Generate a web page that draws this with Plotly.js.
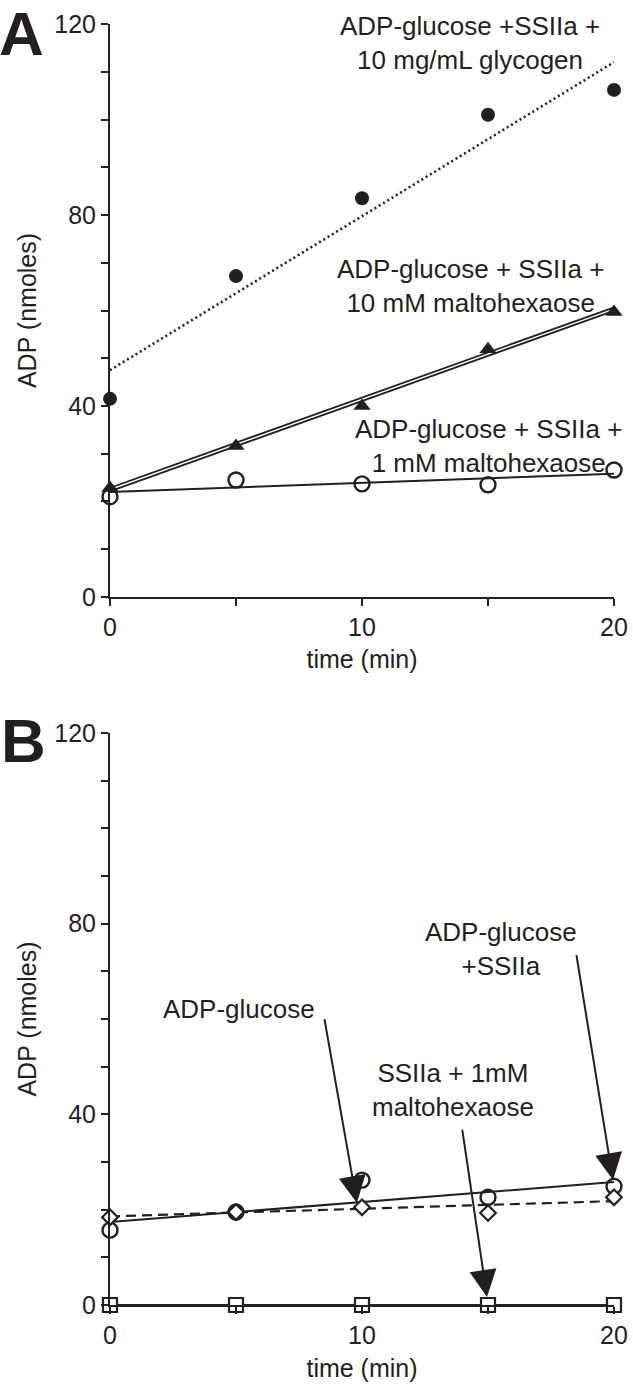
<!DOCTYPE html>
<html>
<head>
<meta charset="utf-8">
<script src="https://cdn.plot.ly/plotly-3.0.1.min.js"></script>
<style>html,body{margin:0;padding:0;background:#fff;}#chart{width:633px;height:1385px;}</style>
</head>
<body>
<div id="chart"></div>
<script>
// ---------- data ----------
var timeMin = [0, 5, 10, 15, 20];
var fitX = [0, 20];

// Panel A
var glycogen10mg = [41.5, 67.2, 83.5, 101, 106.2];
var glycogenFit = [47.5, 112];
var malto10mM = [22.8, 31.6, 40, 51.9, 59.7];
var malto10mMFit = [22.5, 60.3];
var malto1mM = [21, 24.5, 23.7, 23.5, 26.6];
var malto1mMFit = [22, 25.8];

// Panel B
var adpgSSIIa = [15.7, 19.5, 26.2, 22.6, 24.9];
var adpgSSIIaFit = [17.4, 25.8];
var adpgOnly = [18.4, 19.5, 20.5, 19.3, 22.6];
var adpgOnlyFit = [18.6, 21.8];
var ssIIaMalto = [0, 0, 0, 0, 0];
var ssIIaMaltoFit = [0, 0];

// tick labels
var yTickVals = [0, 10, 20, 30, 40, 50, 60, 70, 80, 90, 100, 110, 120];
var yTickText = ['0', '', '', '', '40', '', '', '', '80', '', '', '', '120'];
var xTickVals = [0, 5, 10, 15, 20];
var xTickText = ['0', '', '10', '', '20'];

// ---------- styling ----------
var FONT = 'Liberation Sans, Arial, sans-serif';
var BLK = '#231f20';

function line(x, y, xa, ya, opts) {
  return Object.assign({x: x, y: y, xaxis: xa, yaxis: ya, mode: 'lines', cliponaxis: false,
    hoverinfo: 'skip', showlegend: false, line: {color: BLK, width: 2}}, opts || {});
}
function pts(x, y, xa, ya, marker) {
  return {x: x, y: y, xaxis: xa, yaxis: ya, mode: 'markers', cliponaxis: false,
    showlegend: false, marker: marker};
}

var traces = [
  // Panel A
  line(fitX, glycogenFit, 'x', 'y', {line: {color: BLK, width: 2.6, dash: '2px,3px'}}),
  line(fitX, malto10mMFit, 'x', 'y', {line: {color: BLK, width: 5}}),
  line(fitX, malto10mMFit, 'x', 'y', {line: {color: '#ffffff', width: 1.4}}),
  line(fitX, malto1mMFit, 'x', 'y', {line: {color: BLK, width: 2}}),
  pts(timeMin, glycogen10mg, 'x', 'y', {symbol: 'circle', size: 14, color: BLK}),
  pts(timeMin, malto10mM, 'x', 'y', {symbol: 'triangle-up', size: 15, color: BLK}),
  pts(timeMin, malto1mM, 'x', 'y', {symbol: 'circle-open', size: 15, color: BLK, line: {width: 2.4, color: BLK}}),
  // Panel B
  line(fitX, adpgSSIIaFit, 'x2', 'y2', {line: {color: BLK, width: 2}}),
  line(fitX, adpgOnlyFit, 'x2', 'y2', {line: {color: BLK, width: 2.2, dash: '10px,6px'}}),
  line(fitX, ssIIaMaltoFit, 'x2', 'y2', {line: {color: BLK, width: 2}}),
  pts(timeMin, adpgSSIIa, 'x2', 'y2', {symbol: 'circle-open', size: 15, color: BLK, line: {width: 2.4, color: BLK}}),
  pts(timeMin, adpgOnly, 'x2', 'y2', {symbol: 'diamond', size: 12, color: '#ffffff', line: {width: 2.2, color: BLK}}),
  pts(timeMin, ssIIaMalto, 'x2', 'y2', {symbol: 'square', size: 14, color: '#ffffff', line: {width: 2.2, color: BLK}})
];

function xax(anchor) {
  return {anchor: anchor, range: [0, 20], showline: true, linecolor: BLK, linewidth: 2,
    ticks: 'outside', ticklen: 7, tickwidth: 2, tickcolor: BLK, showgrid: false, zeroline: false,
    tickmode: 'array', tickvals: xTickVals, ticktext: xTickText,
    tickfont: {family: FONT, size: 25, color: BLK},
    title: {text: 'time (min)', font: {family: FONT, size: 25, color: BLK}, standoff: 11}};
}
function yax(anchor, domain) {
  return {anchor: anchor, domain: domain, range: [0, 120], showline: true, linecolor: BLK, linewidth: 2,
    ticks: 'outside', ticklen: 7, tickwidth: 2, tickcolor: BLK, showgrid: false, zeroline: false,
    tickmode: 'array', tickvals: yTickVals, ticktext: yTickText,
    tickfont: {family: FONT, size: 25, color: BLK},
    title: {text: 'ADP (nmoles)', font: {family: FONT, size: 25, color: BLK}, standoff: 11}};
}

var annFont = {family: FONT, size: 26, color: BLK};
function txt(x, y, xr, yr, text) {
  return {x: x, y: y, xref: xr, yref: yr, text: text, showarrow: false, font: annFont,
    align: 'center', xanchor: 'center', yanchor: 'middle'};
}
function arrow(x, y, ax, ay, xr, yr) {
  return {x: x, y: y, ax: ax, ay: ay, xref: xr, yref: yr, axref: xr, ayref: yr, text: '',
    showarrow: true, arrowhead: 2, arrowsize: 2.7, arrowwidth: 2, arrowcolor: BLK, standoff: 0, startstandoff: 0};
}

var layout = {
  width: 633, height: 1385,
  margin: {l: 110, r: 19, t: 24, b: 80},
  paper_bgcolor: '#ffffff', plot_bgcolor: '#ffffff',
  showlegend: false,
  xaxis: xax('y'),
  yaxis: yax('x', [0.5527, 1]),
  xaxis2: xax('y2'),
  yaxis2: yax('x2', [0, 0.4465]),
  annotations: [
    {x: 0, y: 1.0, xref: 'paper', yref: 'paper', text: '<b>A</b>', showarrow: false,
      xanchor: 'center', yanchor: 'middle', xshift: -89, yshift: -9, font: {family: FONT, size: 62, color: BLK}},
    {x: 0, y: 0.4465, xref: 'paper', yref: 'paper', text: '<b>B</b>', showarrow: false,
      xanchor: 'center', yanchor: 'middle', xshift: -87, yshift: -7, font: {family: FONT, size: 62, color: BLK}},
    txt(14.3, 116, 'x', 'y', 'ADP-glucose +SSIIa +<br>10 mg/mL glycogen'),
    txt(14.3, 65.1, 'x', 'y', 'ADP-glucose + SSIIa +<br>10 mM maltohexaose'),
    txt(15.0, 31.6, 'x', 'y', 'ADP-glucose + SSIIa +<br>1 mM maltohexaose'),
    txt(5.1, 62.2, 'x2', 'y2', 'ADP-glucose'),
    txt(15.5, 74.6, 'x2', 'y2', 'ADP-glucose<br>+SSIIa'),
    txt(13.6, 45.2, 'x2', 'y2', 'SSIIa + 1mM<br>maltohexaose'),
    arrow(9.8, 21.4, 8.5, 60.3, 'x2', 'y2'),
    arrow(19.96, 26.2, 18.5, 73.7, 'x2', 'y2'),
    arrow(14.96, 1.7, 13.97, 37.1, 'x2', 'y2')
  ]
};

Plotly.newPlot('chart', traces, layout, {displayModeBar: false, staticPlot: true});
</script>
</body>
</html>
